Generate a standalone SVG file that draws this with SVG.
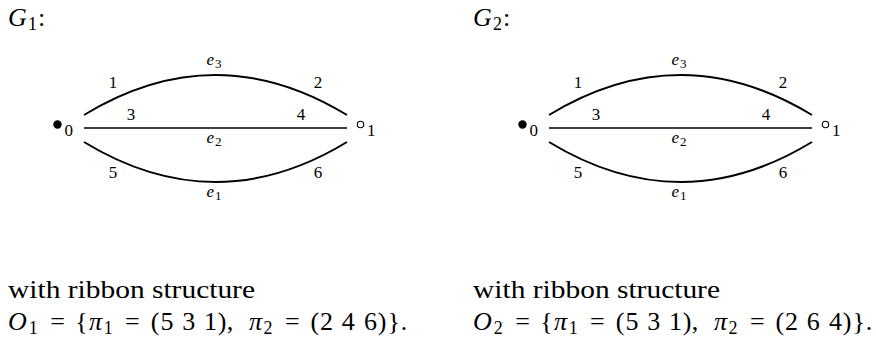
<svg xmlns="http://www.w3.org/2000/svg" width="876" height="340" viewBox="0 0 876 340">
<g id="G1">
  <text font-family="Liberation Serif" font-size="26" font-style="italic" x="8" y="26">G</text>
  <text font-family="Liberation Serif" font-size="18" x="28" y="30">1</text>
  <text font-family="Liberation Serif" font-size="26" x="38" y="26">:</text>
  <g id="g1-edges" fill="none" stroke="#000">
    <path stroke-width="2" d="M84,115 Q215.5,35 347,115"/>
    <path stroke-width="1.6" d="M84,128 L347,128"/>
    <path stroke-width="2" d="M84,142 Q215.5,222 347,142"/>
  </g>
  <g id="g1-edge-labels">
    <text font-family="Liberation Serif" font-size="17" font-style="italic" x="206.5" y="65">e</text>
    <text font-family="Liberation Serif" font-size="13" x="215" y="68">3</text>
    <text font-family="Liberation Serif" font-size="17" font-style="italic" x="206.5" y="143">e</text>
    <text font-family="Liberation Serif" font-size="13" x="215" y="146">2</text>
    <text font-family="Liberation Serif" font-size="17" font-style="italic" x="206.5" y="197">e</text>
    <text font-family="Liberation Serif" font-size="13" x="215" y="200">1</text>
    <text font-family="Liberation Serif" font-size="17" text-anchor="middle" x="113" y="88">1</text>
    <text font-family="Liberation Serif" font-size="17" text-anchor="middle" x="318" y="88">2</text>
    <text font-family="Liberation Serif" font-size="17" text-anchor="middle" x="131" y="120">3</text>
    <text font-family="Liberation Serif" font-size="17" text-anchor="middle" x="301" y="120">4</text>
    <text font-family="Liberation Serif" font-size="17" text-anchor="middle" x="113" y="178">5</text>
    <text font-family="Liberation Serif" font-size="17" text-anchor="middle" x="318" y="178">6</text>
  </g>
  <g id="g1-v0">
    <circle cx="57.5" cy="124.5" r="4.2" fill="#000"/>
    <text font-family="Liberation Serif" font-size="17" x="64.5" y="136">0</text>
  </g>
  <g id="g1-v1">
    <circle cx="360.5" cy="124.5" r="3.2" fill="none" stroke="#000" stroke-width="1.1"/>
    <text font-family="Liberation Serif" font-size="17" x="367" y="136">1</text>
  </g>
  <text font-family="Liberation Serif" font-size="26" x="8" y="298" textLength="247" lengthAdjust="spacingAndGlyphs">with ribbon structure</text>
  <g id="O1">
    <text font-family="Liberation Serif" font-size="26" font-style="italic" x="8" y="330">O</text>
    <text font-family="Liberation Serif" font-size="18" text-anchor="middle" x="33.3" y="334">1</text>
    <text font-family="Liberation Serif" font-size="26" text-anchor="middle" x="57.5" y="330">=</text>
    <text font-family="Liberation Serif" font-size="26" text-anchor="middle" x="81.4" y="330">{</text>
    <text font-family="Liberation Serif" font-size="26" font-style="italic" text-anchor="middle" x="95.5" y="330">π</text>
    <text font-family="Liberation Serif" font-size="18" text-anchor="middle" x="108.3" y="334">1</text>
    <text font-family="Liberation Serif" font-size="26" text-anchor="middle" x="132.4" y="330">=</text>
    <text font-family="Liberation Serif" font-size="26" text-anchor="middle" x="155.1" y="330">(</text>
    <text font-family="Liberation Serif" font-size="26" text-anchor="middle" x="166.9" y="330">5</text>
    <text font-family="Liberation Serif" font-size="26" text-anchor="middle" x="188.7" y="330">3</text>
    <text font-family="Liberation Serif" font-size="26" text-anchor="middle" x="210.5" y="330">1</text>
    <text font-family="Liberation Serif" font-size="26" text-anchor="middle" x="222.2" y="330">)</text>
    <text font-family="Liberation Serif" font-size="26" text-anchor="middle" x="230" y="330">,</text>
    <text font-family="Liberation Serif" font-size="26" font-style="italic" text-anchor="middle" x="255.4" y="330">π</text>
    <text font-family="Liberation Serif" font-size="18" text-anchor="middle" x="268" y="334">2</text>
    <text font-family="Liberation Serif" font-size="26" text-anchor="middle" x="292.3" y="330">=</text>
    <text font-family="Liberation Serif" font-size="26" text-anchor="middle" x="314.8" y="330">(</text>
    <text font-family="Liberation Serif" font-size="26" text-anchor="middle" x="326.5" y="330">2</text>
    <text font-family="Liberation Serif" font-size="26" text-anchor="middle" x="348.3" y="330">4</text>
    <text font-family="Liberation Serif" font-size="26" text-anchor="middle" x="370.4" y="330">6</text>
    <text font-family="Liberation Serif" font-size="26" text-anchor="middle" x="382.1" y="330">)</text>
    <text font-family="Liberation Serif" font-size="26" text-anchor="middle" x="393.8" y="330">}</text>
    <text font-family="Liberation Serif" font-size="26" text-anchor="middle" x="404" y="330">.</text>
  </g>
</g>

<g id="G2" transform="translate(465,0)">
  <text font-family="Liberation Serif" font-size="26" font-style="italic" x="8" y="26">G</text>
  <text font-family="Liberation Serif" font-size="18" x="28" y="30">2</text>
  <text font-family="Liberation Serif" font-size="26" x="38" y="26">:</text>
  <g id="g2-edges" fill="none" stroke="#000">
    <path stroke-width="2" d="M84,115 Q215.5,35 347,115"/>
    <path stroke-width="1.6" d="M84,128 L347,128"/>
    <path stroke-width="2" d="M84,142 Q215.5,222 347,142"/>
  </g>
  <g id="g2-edge-labels">
    <text font-family="Liberation Serif" font-size="17" font-style="italic" x="206.5" y="65">e</text>
    <text font-family="Liberation Serif" font-size="13" x="215" y="68">3</text>
    <text font-family="Liberation Serif" font-size="17" font-style="italic" x="206.5" y="143">e</text>
    <text font-family="Liberation Serif" font-size="13" x="215" y="146">2</text>
    <text font-family="Liberation Serif" font-size="17" font-style="italic" x="206.5" y="197">e</text>
    <text font-family="Liberation Serif" font-size="13" x="215" y="200">1</text>
    <text font-family="Liberation Serif" font-size="17" text-anchor="middle" x="113" y="88">1</text>
    <text font-family="Liberation Serif" font-size="17" text-anchor="middle" x="318" y="88">2</text>
    <text font-family="Liberation Serif" font-size="17" text-anchor="middle" x="131" y="120">3</text>
    <text font-family="Liberation Serif" font-size="17" text-anchor="middle" x="301" y="120">4</text>
    <text font-family="Liberation Serif" font-size="17" text-anchor="middle" x="113" y="178">5</text>
    <text font-family="Liberation Serif" font-size="17" text-anchor="middle" x="318" y="178">6</text>
  </g>
  <g id="g2-v0">
    <circle cx="57.5" cy="124.5" r="4.2" fill="#000"/>
    <text font-family="Liberation Serif" font-size="17" x="64.5" y="136">0</text>
  </g>
  <g id="g2-v1">
    <circle cx="360.5" cy="124.5" r="3.2" fill="none" stroke="#000" stroke-width="1.1"/>
    <text font-family="Liberation Serif" font-size="17" x="367" y="136">1</text>
  </g>
  <text font-family="Liberation Serif" font-size="26" x="8" y="298" textLength="247" lengthAdjust="spacingAndGlyphs">with ribbon structure</text>
  <g id="O2">
    <text font-family="Liberation Serif" font-size="26" font-style="italic" x="8" y="330">O</text>
    <text font-family="Liberation Serif" font-size="18" text-anchor="middle" x="33.3" y="334">2</text>
    <text font-family="Liberation Serif" font-size="26" text-anchor="middle" x="57.5" y="330">=</text>
    <text font-family="Liberation Serif" font-size="26" text-anchor="middle" x="81.4" y="330">{</text>
    <text font-family="Liberation Serif" font-size="26" font-style="italic" text-anchor="middle" x="95.5" y="330">π</text>
    <text font-family="Liberation Serif" font-size="18" text-anchor="middle" x="108.3" y="334">1</text>
    <text font-family="Liberation Serif" font-size="26" text-anchor="middle" x="132.4" y="330">=</text>
    <text font-family="Liberation Serif" font-size="26" text-anchor="middle" x="155.1" y="330">(</text>
    <text font-family="Liberation Serif" font-size="26" text-anchor="middle" x="166.9" y="330">5</text>
    <text font-family="Liberation Serif" font-size="26" text-anchor="middle" x="188.7" y="330">3</text>
    <text font-family="Liberation Serif" font-size="26" text-anchor="middle" x="210.5" y="330">1</text>
    <text font-family="Liberation Serif" font-size="26" text-anchor="middle" x="222.2" y="330">)</text>
    <text font-family="Liberation Serif" font-size="26" text-anchor="middle" x="230" y="330">,</text>
    <text font-family="Liberation Serif" font-size="26" font-style="italic" text-anchor="middle" x="255.4" y="330">π</text>
    <text font-family="Liberation Serif" font-size="18" text-anchor="middle" x="268" y="334">2</text>
    <text font-family="Liberation Serif" font-size="26" text-anchor="middle" x="292.3" y="330">=</text>
    <text font-family="Liberation Serif" font-size="26" text-anchor="middle" x="314.8" y="330">(</text>
    <text font-family="Liberation Serif" font-size="26" text-anchor="middle" x="326.5" y="330">2</text>
    <text font-family="Liberation Serif" font-size="26" text-anchor="middle" x="348.3" y="330">6</text>
    <text font-family="Liberation Serif" font-size="26" text-anchor="middle" x="370.4" y="330">4</text>
    <text font-family="Liberation Serif" font-size="26" text-anchor="middle" x="382.1" y="330">)</text>
    <text font-family="Liberation Serif" font-size="26" text-anchor="middle" x="393.8" y="330">}</text>
    <text font-family="Liberation Serif" font-size="26" text-anchor="middle" x="404" y="330">.</text>
  </g>
</g>
</svg>
